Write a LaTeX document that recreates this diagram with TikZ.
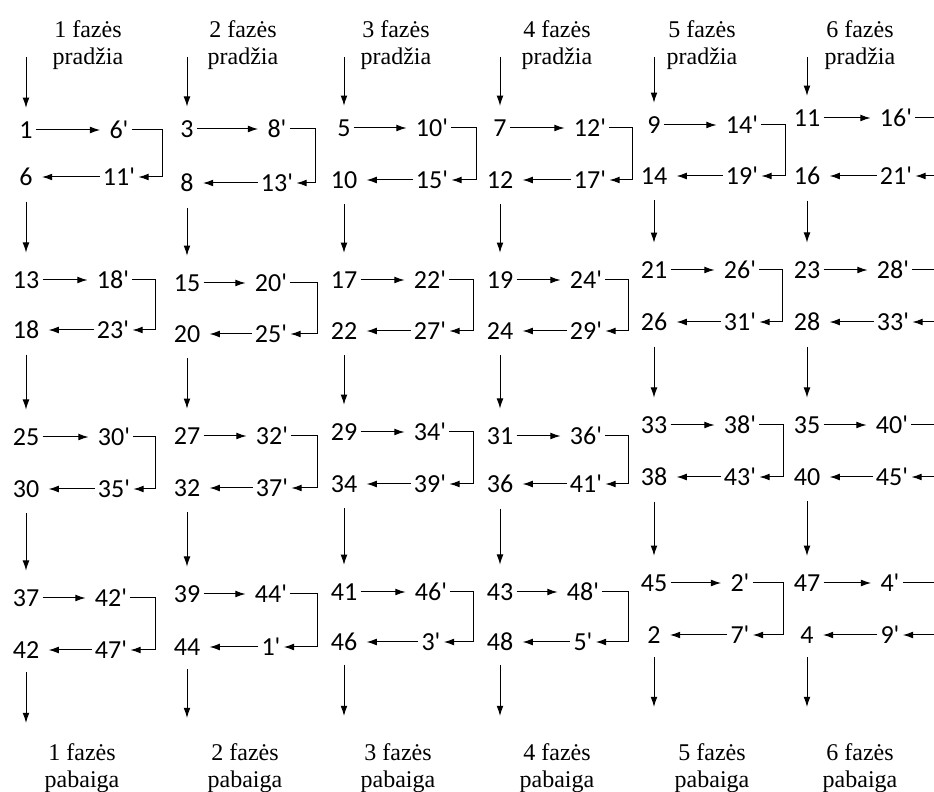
\documentclass[tikz,border=0pt]{standalone}
\usepackage{fontspec}
\setmainfont{Liberation Serif}
\newfontfamily\numfont{Carlito}[Ligatures=TeXOff]
\usetikzlibrary{arrows.meta}
\tikzset{
    num/.style={font=\numfont\fontsize{13}{15}\selectfont, inner xsep=1.5pt, inner ysep=1.7pt},
    phase/.style={align=center, font=\fontsize{12}{13.3}\selectfont},
    flow/.style={-{Latex[length=1.8mm, width=1.2mm]}, line width=0.5pt},
    hflow/.style={flow, shorten >=3pt},
    turn/.style={flow},
    arrowin/.style={flow, shorten >=5pt},
    arrowdown/.style={flow, shorten <=6pt, shorten >=7.5pt},
    arrowout/.style={flow, shorten <=5pt}
}
% one block: name, x left, x primed, x turn, y top, y bottom, n, m, k
\newcommand{\phaseblock}[9]{%
    \node[num] (#1a) at (#2,#5) {#7};
    \node[num] (#1p) at (#3,#5) {#8'};
    \node[num] (#1b) at (#2,#6) {#8};
    \node[num] (#1q) at (#3,#6) {#9'};
    \coordinate (#1r) at (#4,#5);
    \draw[hflow] (#1a) -- (#1p);
    \draw[hflow] (#1q) -- (#1b);
    \draw[turn] (#1p.east) -- (#1r) |- (#1q.east);
}

\begin{document}
\begin{tikzpicture}[x=0.5pt, y=-0.5pt]
    \useasboundingbox (0,0) rectangle (934,792);
    \clip (0,0) rectangle (934,792);

    \node[phase] (head1) at (88,45) {1 fazės\\pradžia};
    \node[phase] (head2) at (243,45) {2 fazės\\pradžia};
    \node[phase] (head3) at (396,45) {3 fazės\\pradžia};
    \node[phase] (head4) at (557,45) {4 fazės\\pradžia};
    \node[phase] (head5) at (702,45) {5 fazės\\pradžia};
    \node[phase] (head6) at (860,45) {6 fazės\\pradžia};

    \phaseblock{b11}{26}{119}{162}{130}{177}{1}{6}{11}
    \phaseblock{b21}{187}{277}{315}{129}{183}{3}{8}{13}
    \phaseblock{b31}{344}{432}{476}{128}{180}{5}{10}{15}
    \phaseblock{b41}{500}{590}{632}{128}{180}{7}{12}{17}
    \phaseblock{b51}{654}{742}{785}{125}{176}{9}{14}{19}
    \phaseblock{b61}{807}{896}{950}{118}{176}{11}{16}{21}

    \phaseblock{b12}{26}{113}{155}{280}{330}{13}{18}{23}
    \phaseblock{b22}{187}{271}{317}{283}{334}{15}{20}{25}
    \phaseblock{b32}{344}{430}{473}{280}{331}{17}{22}{27}
    \phaseblock{b42}{500}{586}{628}{280}{331}{19}{24}{29}
    \phaseblock{b52}{654}{740}{782}{270}{322}{21}{26}{31}
    \phaseblock{b62}{807}{893}{950}{270}{322}{23}{28}{33}

    \phaseblock{b13}{26}{114}{155}{437}{489}{25}{30}{35}
    \phaseblock{b23}{187}{272}{317}{436}{488}{27}{32}{37}
    \phaseblock{b33}{344}{430}{473}{432}{484}{29}{34}{39}
    \phaseblock{b43}{500}{586}{628}{436}{484}{31}{36}{41}
    \phaseblock{b53}{654}{740}{783}{425}{477}{33}{38}{43}
    \phaseblock{b63}{807}{892}{950}{425}{477}{35}{40}{45}

    \phaseblock{b14}{26}{111}{155}{598}{650}{37}{42}{47}
    \phaseblock{b24}{187}{271}{317}{594}{647}{39}{44}{1}
    \phaseblock{b34}{344}{431}{473}{592}{642}{41}{46}{3}
    \phaseblock{b44}{500}{583}{628}{592}{642}{43}{48}{5}
    \phaseblock{b54}{654}{740}{783}{583}{635}{45}{2}{7}
    \phaseblock{b64}{807}{890}{950}{583}{635}{47}{4}{9}

    % down the columns
    \foreach \f/\x/\e in {1/26/723, 2/187/718, 3/344/716, 4/500/716, 5/654/707, 6/807/707} {
        \coordinate (in\f) at (\x,57);
        \coordinate (out\f) at (\x,\e);
        \draw[arrowin] (in\f) -- (b\f1a);
        \draw[arrowdown] (b\f1b) -- (b\f2a);
        \draw[arrowdown] (b\f2b) -- (b\f3a);
        \draw[arrowdown] (b\f3b) -- (b\f4a);
        \draw[arrowout] (b\f4b) -- (out\f);
    }

    \node[phase] (tail1) at (82,768) {1 fazės\\pabaiga};
    \node[phase] (tail2) at (245,768) {2 fazės\\pabaiga};
    \node[phase] (tail3) at (398,768) {3 fazės\\pabaiga};
    \node[phase] (tail4) at (557,768) {4 fazės\\pabaiga};
    \node[phase] (tail5) at (712,768) {5 fazės\\pabaiga};
    \node[phase] (tail6) at (860,768) {6 fazės\\pabaiga};
\end{tikzpicture}
\end{document}
